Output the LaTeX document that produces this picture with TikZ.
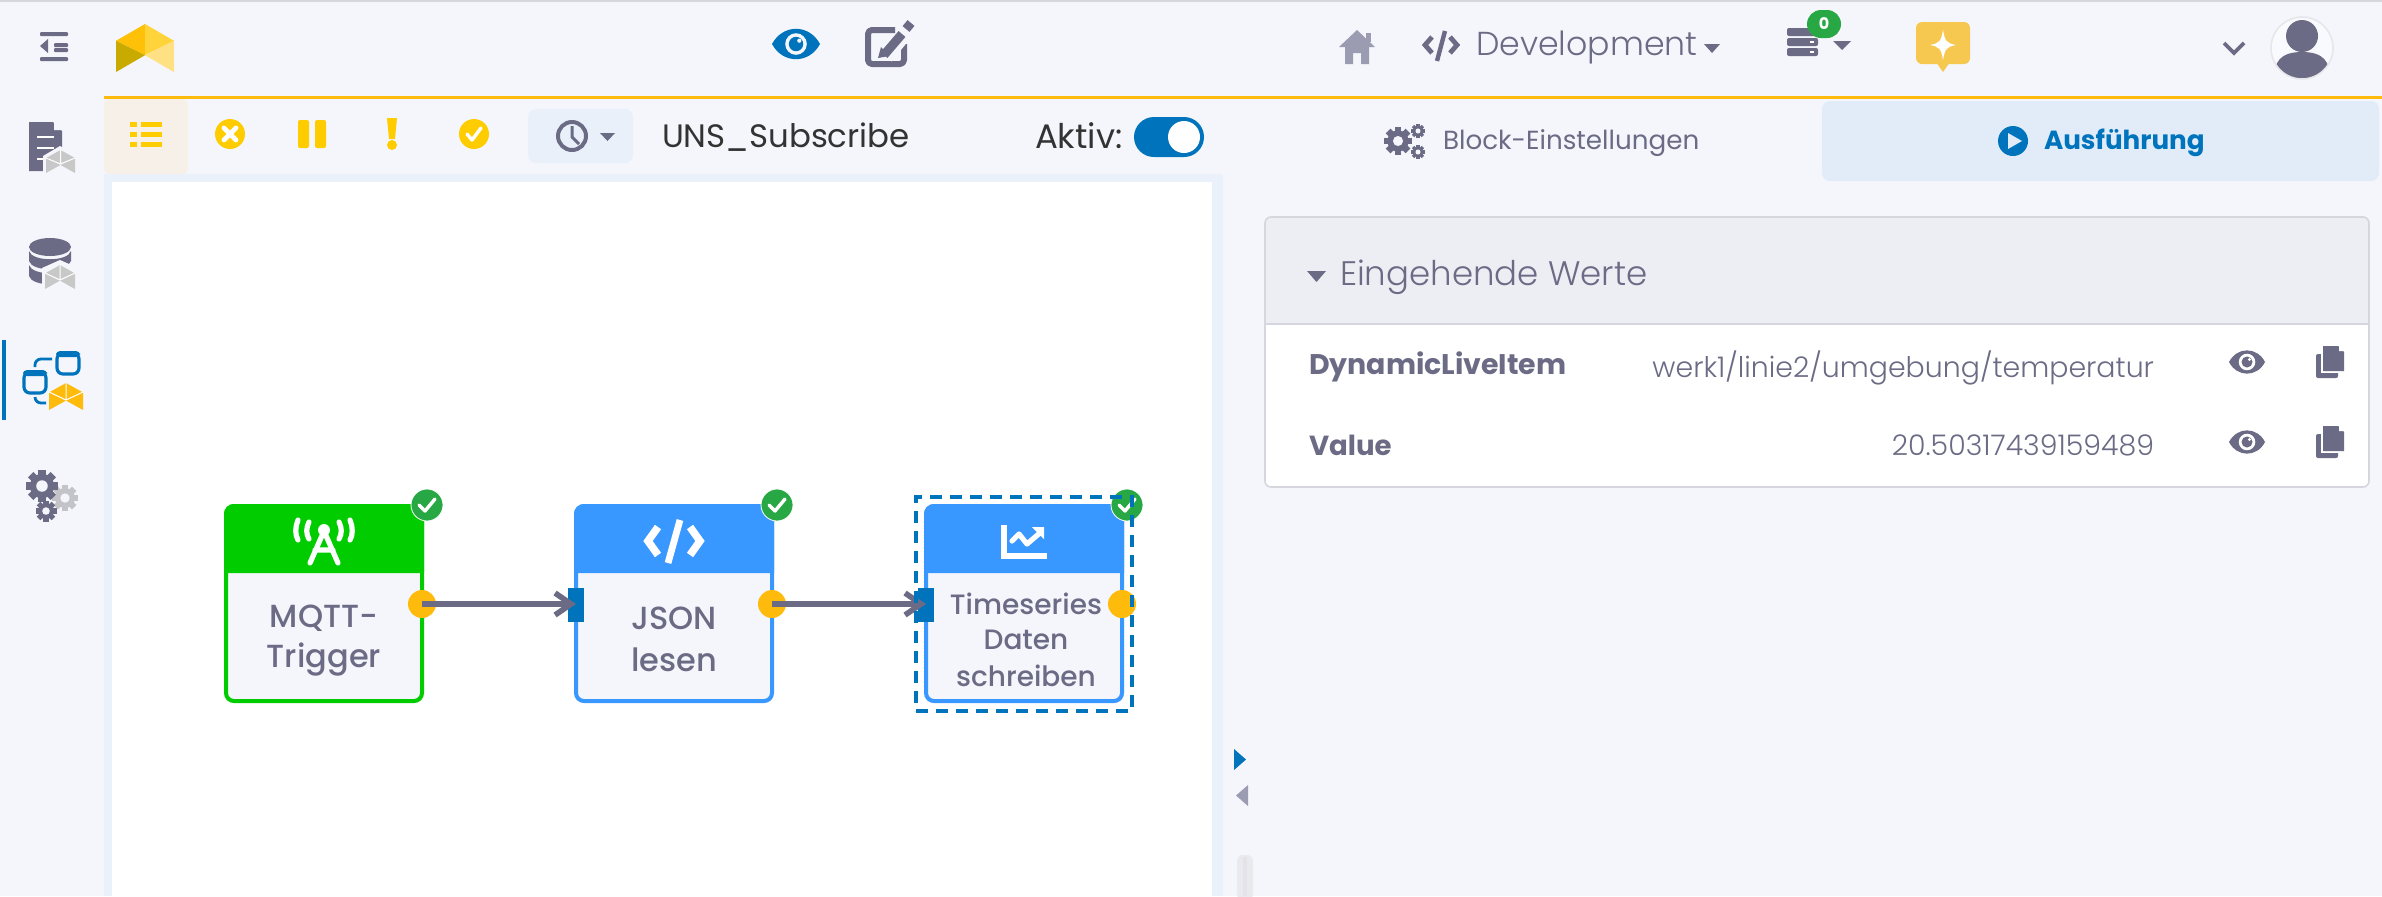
\documentclass[tikz,border=0pt]{standalone}
\usepackage{fontspec}
\usetikzlibrary{arrows.meta}
\setmainfont{Poppins}
\newfontfamily\medf{Poppins Medium}
\newfontfamily\lightf{Poppins Light}
\definecolor{bgc}{HTML}{F4F6FB}
\definecolor{tc}{HTML}{6B6B85}
\definecolor{tcl}{HTML}{9B9BB2}
\definecolor{dk}{HTML}{333333}
\definecolor{mainblue}{HTML}{0073BD}
\definecolor{blockblue}{HTML}{3898FF}
\definecolor{blockgreen}{HTML}{00CC00}
\definecolor{amber}{HTML}{FFBB0C}
\definecolor{ylw}{HTML}{FFCC00}
\definecolor{okgreen}{HTML}{28A745}
\definecolor{edge}{HTML}{D5D6DE}
\definecolor{lg1}{HTML}{FFC107}
\definecolor{lg2}{HTML}{FFD43B}
\definecolor{lg3}{HTML}{C9AA00}
\definecolor{lg4}{HTML}{FFE082}
\definecolor{lgr}{HTML}{C8C8C8}
\definecolor{gearg}{HTML}{C4C4C8}
\definecolor{tabact}{HTML}{F6F0E8}
\definecolor{clockbg}{HTML}{EAF0FA}
\definecolor{bubble}{HTML}{F7C84F}
\definecolor{runbg}{HTML}{E1ECF8}
\definecolor{panelhd}{HTML}{ECEEF3}
\definecolor{sc1}{HTML}{E9E9EE}
\definecolor{sc2}{HTML}{E3E3E8}
\definecolor{canvasedge}{HTML}{EAF1FB}
\newcommand\fs[1]{\fontsize{#1}{#1}\selectfont}
\newcommand\gearicon[5]{\begin{scope}[shift={(#1,#2)},x=#3*0.5pt,y=#3*0.5pt]
  \foreach \a in {0,45,90,135}{\fill[#4,rotate=\a] (-.24,-1) rectangle (.24,1);}
  \fill[#4] (0,0) circle (.76);\fill[#5] (0,0) circle (.36);\end{scope}}
\newcommand\eyeicon[6]{\begin{scope}[shift={(#1,#2)},x=#3*0.5pt,y=#4*0.5pt]
  \fill[#5] (-1,0) .. controls (-.55,1.35) and (.55,1.35) .. (1,0) .. controls (.55,-1.35) and (-.55,-1.35) .. (-1,0) -- cycle;
  \end{scope}
  \fill[#6] (#1,#2) circle [radius=#4*.72];\fill[#5] (#1,#2) circle [radius=#4*.48];\fill[#6] (#1+#4*.22,#2-#4*.22) circle [radius=#4*.14];}
\newcommand\logomark[8]{\begin{scope}[shift={(#1,#2)},x=#3*0.5pt,y=#4*-0.5pt]
  \fill[#5] (.5,0) -- (0,.35) -- (.5,.65) -- cycle;
  \fill[#6] (.5,0) -- (1,.35) -- (.5,.65) -- cycle;
  \fill[#7] (0,.35) -- (.5,.65) -- (0,1) -- cycle;
  \fill[#8] (1,.35) -- (.5,.65) -- (1,1) -- cycle;\end{scope}}
\newcommand\copyicon[2]{\fill[tc,rounded corners=1pt] (#1,#2+8) rectangle (#1+22,#2+32);
  \fill[white] (#1+5,#2+3) rectangle (#1+28,#2+27);
  \fill[tc] (#1+7,#2) -- (#1+22,#2) -- (#1+28,#2+6) -- (#1+28,#2+25) -- (#1+7,#2+25) -- cycle;
  \fill[white] (#1+23,#2) -- (#1+28,#2+5) -- (#1+23,#2+5) -- cycle;}
\tikzset{
  txt/.style={inner sep=0pt,outer sep=0pt,anchor=west,text=tc},
  blocktxt/.style={inner sep=0pt,outer sep=0pt,align=center,text=tc},
  blockbox/.style={draw=#1,fill=bgc,line width=2pt,rounded corners=4pt,minimum width=98pt,minimum height=97.5pt,inner sep=0pt,outer sep=0pt},
  outport/.style={circle,fill=amber,minimum size=14pt,inner sep=0pt,outer sep=0pt},
  inport/.style={rectangle,fill=mainblue,minimum width=8pt,minimum height=17pt,inner sep=0pt,outer sep=0pt},
  okbadge/.style={circle,fill=okgreen,draw=white,line width=.4pt,minimum size=16pt,inner sep=0pt,outer sep=0pt},
  conn/.style={draw=tc,line width=2.8pt,-{Straight Barb[length=8pt,width=11pt,line width=2.8pt]}},
  whitecheck/.style={draw=white,line width=1.7pt,line cap=round,line join=round},
  icw/.style={draw=white,line width=2.6pt,line cap=round,line join=round},
}
\begin{document}
\begin{tikzpicture}[x=0.5pt,y=-0.5pt]
\useasboundingbox (0,0) rectangle (2382,896);
\fill[bgc] (0,0) rectangle (2382,896);
\fill[edge] (0,0) rectangle (2382,2);
\fill[amber] (104,96) rectangle (2382,99);
% canvas
\fill[canvasedge] (104,174) rectangle (1223,896);
\fill[white] (112,182) rectangle (1212,896);
% top left
\foreach \yy/\xa in {32/40,43/54,48/54,57/40}{\fill[tc,rounded corners=.5pt] (\xa,\yy) rectangle (68,\yy+4);}
\fill[tc] (40,46) -- (48,39) -- (48,53) -- cycle;
\logomark{116}{24}{58}{48}{lg1}{lg2}{lg3}{lg4}
\eyeicon{796}{44}{24}{15}{mainblue}{bgc}
\draw[tc,line width=3pt,rounded corners=2pt,line join=round] (895,30) -- (868,30) -- (868,64) -- (904,64) -- (904,44);
\draw[bgc,line width=7pt] (886,57) -- (910,28);
\draw[tc,line width=4.5pt] (884,55) -- (902,34);
\draw[tc,line width=4.5pt] (906,29) -- (911,23);
\fill[tc] (878,58) -- (889,56) -- (881,47) -- cycle;
% toolbar
\fill[tabact,rounded corners=3pt] (104,99) rectangle (188,174);
\foreach \yy in {124,134,144}{\fill[ylw] (130,\yy-2.5) rectangle (137,\yy+2.5);\fill[ylw] (141,\yy-2.5) rectangle (162,\yy+2.5);}
\fill[ylw] (230,134) circle [radius=15];
\draw[white,line width=2.4pt,line cap=round] (224,128) -- (236,140) (236,128) -- (224,140);
\fill[ylw,rounded corners=1pt] (298,120) rectangle (309,148);
\fill[ylw,rounded corners=1pt] (315,120) rectangle (326,148);
\fill[ylw] (387,118) -- (397,118) -- (395,139) -- (389,139) -- cycle;
\fill[ylw] (392,145) circle [radius=5];
\fill[ylw] (474,134) circle [radius=15];
\draw[whitecheck] (467,134) -- (472,140) -- (481,128);
\fill[clockbg,rounded corners=4pt] (528,109) rectangle (633,163);
\draw[tc,line width=2pt] (572,136) circle [radius=14];
\draw[tc,line width=1.5pt] (572,126) -- (572,137) -- (579,144);
\fill[tc] (600,133) -- (615,133) -- (607.5,141) -- cycle;
\node[txt,text=dk,font=\fs{16.2}] (title) at (662,137) {UNS\_Subscribe};
\node[txt,text=dk,font=\fs{17}] (aktiv) at (1035,136) {Aktiv:};
\node[rectangle,fill=mainblue,rounded corners=10pt,minimum width=35pt,minimum height=20pt,inner sep=0pt] (toggle) at (1169,137) {};
\fill[white] (1184,137) circle [radius=16];
% top right
\fill[tcl] (1357,30) -- (1375,47) -- (1369,47) -- (1369,64) -- (1361,64) -- (1361,53) -- (1353,53) -- (1353,64) -- (1345,64) -- (1345,47) -- (1339,47) -- cycle;
\fill[tcl] (1366,33) rectangle (1371,42);
\draw[tc,line width=2.4pt] (1432,37) -- (1425,45) -- (1432,53);
\draw[tc,line width=2.4pt] (1450,37) -- (1457,45) -- (1450,53);
\draw[tc,line width=2.2pt] (1445,31) -- (1437,61);
\node[txt,font=\lightf\fs{16.6}] (dev) at (1476,47) {Development};
\fill[tc] (1704,44) -- (1720,44) -- (1712,53) -- cycle;
\foreach \yy in {28,38,48}{\fill[tc,rounded corners=1pt] (1787,\yy) rectangle (1818,\yy+8);\fill[white] (1810,\yy+3) rectangle (1814,\yy+5);}
\node[rectangle,fill=okgreen,rounded corners=7pt,minimum width=17pt,minimum height=14pt,inner sep=0pt,text=white,font=\bfseries\fs{8}] (badge) at (1824,24) {0};
\fill[tc] (1833,41) -- (1851,41) -- (1842,50) -- cycle;
\fill[bubble,rounded corners=3pt] (1916,22) rectangle (1970,64);
\fill[bubble] (1936,62) -- (1950,62) -- (1943,72) -- cycle;
\fill[white] (1943,30) .. controls (1945,41) and (1946,43) .. (1956,45) .. controls (1946,47) and (1945,49) .. (1943,60) .. controls (1941,49) and (1940,47) .. (1930,45) .. controls (1940,43) and (1941,41) .. (1943,30) -- cycle;
\draw[tc,line width=1.8pt] (2224,43) -- (2234,53) -- (2244,43);
\begin{scope}
\clip (2302,48) circle [radius=31];
\fill[white!50!bgc] (2302,48) circle [radius=31];
\fill[tc] (2302,36) circle [radius=16];
\fill[tc] (2302,52) .. controls (2280,52) and (2274,62) .. (2274,79) -- (2330,79) .. controls (2330,62) and (2324,52) .. (2302,52) -- cycle;
\end{scope}
\draw[edge!60,line width=.8pt] (2302,48) circle [radius=31];
% sidebar
\fill[tc] (29,122) -- (53,122) -- (62,131) -- (62,171) -- (29,171) -- cycle;
\fill[bgc] (54,122) -- (62,130) -- (54,130) -- cycle;
\foreach \yy in {137,148,159}{\draw[white,line width=.8pt] (37,\yy) -- (54,\yy);}
\fill[bgc] (43,156) -- (60,146) -- (78,156) -- (78,176) -- (43,176) -- cycle;
\logomark{46}{150}{29}{23}{lgr}{lgr}{lgr}{lgr}
\draw[white,line width=.5pt] (60.5,150) -- (60.5,164) (46,158) -- (60.5,164) -- (75,158);
\fill[tc] (50,247) ellipse [x radius=21,y radius=9];
\fill[tc] (29,251) -- (29,261) .. controls (32,272) and (68,272) .. (71,261) -- (71,251) .. controls (68,262) and (32,262) .. (29,251) -- cycle;
\fill[tc] (29,265) -- (29,276) .. controls (32,287) and (68,287) .. (71,276) -- (71,265) .. controls (68,276) and (32,276) .. (29,265) -- cycle;
\fill[bgc] (42,268) -- (60,260) -- (78,268) -- (78,292) -- (42,292) -- cycle;
\logomark{45}{265}{30}{24}{lgr}{lgr}{lgr}{lgr}
\draw[white,line width=.5pt] (60,265) -- (60,280) (45,273) -- (60,280) -- (75,273);
\fill[mainblue] (2,340) rectangle (6,420);
\draw[mainblue,line width=1.6pt,rounded corners=3pt] (24,372) rectangle (46,393);
\fill[mainblue,rounded corners=2pt] (23,370) rectangle (47,376);
\draw[mainblue,line width=1.6pt,rounded corners=3pt] (57,353) rectangle (79,374);
\fill[mainblue,rounded corners=2pt] (56,351) rectangle (80,357);
\draw[mainblue,line width=1.4pt,rounded corners=3pt] (52,359) -- (35,359) -- (35,367);
\draw[mainblue,line width=1.4pt,rounded corners=3pt] (35,397) -- (35,403) -- (46,403);
\logomark{49}{383}{34}{27}{amber}{amber}{amber}{amber}
\draw[white,line width=.5pt] (66,383) -- (66,400) (49,392) -- (66,400) -- (83,392);
\gearicon{65}{498}{13}{gearg}{bgc}
\gearicon{42}{486}{16}{tc}{bgc}
\gearicon{46}{511}{10.5}{tc}{bgc}
% tabs
\fill[runbg,rounded corners=4pt] (1822,101) rectangle (2379,181);
\gearicon{1398}{141}{14}{tc}{bgc}
\gearicon{1418}{131}{7}{tc}{bgc}
\gearicon{1418}{152}{7}{tc}{bgc}
\node[txt,font=\fs{13.1}] (tabblock) at (1443,143) {Block-Einstellungen};
\fill[mainblue] (2013,141) circle [radius=15];
\fill[runbg] (2008,133) -- (2022,141) -- (2008,149) -- cycle;
\node[txt,text=mainblue,font=\bfseries\fs{13.1}] (tabrun) at (2044,143) {Ausführung};
% panel
\fill[white,rounded corners=3pt] (1265,217) rectangle (2369,487);
\fill[panelhd,rounded corners=3pt] (1265,217) rectangle (2369,240);
\fill[panelhd] (1265,230) rectangle (2369,324);
\draw[edge,line width=.8pt,rounded corners=3pt] (1265,217) rectangle (2369,487);
\draw[edge,line width=1pt] (1265,324) -- (2369,324);
\fill[tc] (1307,271) -- (1326,271) -- (1316.5,282) -- cycle;
\node[txt,font=\lightf\fs{17}] (pheader) at (1340,277) {Eingehende Werte};
\node[txt,font=\bfseries\fs{14.2}] (k1) at (1309,367) {DynamicLiveItem};
\node[txt,anchor=east,font=\lightf\fs{14.2}] (v1) at (2154,368) {werk1/linie2/umgebung/temperatur};
\node[txt,font=\bfseries\fs{13.8}] (k2) at (1309,445) {Value};
\node[txt,anchor=east,font=\lightf\fs{14.2}] (v2) at (2154,445) {20.50317439159489};
\eyeicon{2247}{362}{18}{11.5}{tc}{white}
\eyeicon{2247}{442}{18}{11.5}{tc}{white}
\copyicon{2316}{346}
\copyicon{2316}{426}
% handles
\fill[mainblue] (1234,749) -- (1246,759.5) -- (1234,770) -- cycle;
\fill[tcl] (1248,785) -- (1236,795.5) -- (1248,806) -- cycle;
\fill[sc1,rounded corners=3pt] (1237,855) rectangle (1253,900);
\fill[sc2] (1243,857) rectangle (1247,896);
% blocks
\node[blockbox=blockgreen] (n1) at (324,603.5) {};
\node[blockbox=blockblue] (n2) at (674,603.5) {};
\node[blockbox=blockblue] (n3) at (1024,603.5) {};
\foreach \xa/\colr in {224/blockgreen,574/blockblue,924/blockblue}{
  \fill[\colr] (\xa,573) [rounded corners=5pt] -- (\xa,504) -- (\xa+200,504) [sharp corners] -- (\xa+200,573) -- cycle;}
\node[blocktxt,font=\medf\fs{16}] (t1a) at (324,618) {MQTT-};
\node[blocktxt,font=\medf\fs{16}] (t1b) at (324,660) {Trigger};
\node[blocktxt,font=\medf\fs{16}] (t2a) at (674,618) {JSON};
\node[blocktxt,font=\medf\fs{16}] (t2b) at (674,660) {lesen};
\node[blocktxt,font=\medf\fs{14}] (t3a) at (1026,604) {Timeseries};
\node[blocktxt,font=\medf\fs{14}] (t3b) at (1026,640) {Daten};
\node[blocktxt,font=\medf\fs{14}] (t3c) at (1026,676) {schreiben};
% block icons
\draw[icw] (324,531) -- (310,563) (324,531) -- (338,563) (315,550) -- (333,550);
\fill[white] (324,530) circle [radius=6];
\draw[icw] (309,522) .. controls (306,528) and (306,534) .. (309,539);
\draw[icw] (339,522) .. controls (342,528) and (342,534) .. (339,539);
\draw[icw] (298,520) .. controls (295,527) and (295,535) .. (298,540);
\draw[icw] (350,520) .. controls (353,527) and (353,535) .. (350,540);
\draw[icw,line width=3.8pt,line cap=butt,line join=miter] (658,527) -- (648,541) -- (658,555);
\draw[icw,line width=3.8pt,line cap=butt,line join=miter] (690,527) -- (700,541) -- (690,555);
\draw[icw,line width=3.4pt,line cap=butt] (680,520) -- (668,563);
\draw[icw,line cap=butt,line join=miter] (1004,525) -- (1004,556) -- (1047,556);
\draw[icw] (1012,541) -- (1019,534) -- (1027,544) -- (1041,532);
\fill[white] (1032,527) -- (1044,527) -- (1044,539) -- cycle;
% ports and connectors
\node[outport] (p1) at (422,604) {};
\node[outport] (p2) at (772,604) {};
\node[outport] (p3) at (1122,604) {};
\node[inport] (in2) at (576,605) {};
\node[inport] (in3) at (926,605) {};
\draw[conn] (p1.center) -- (in2.center |- p1.center);
\draw[conn] (p2.center) -- (in3.center |- p2.center);
% check badges
\foreach \nm/\xa in {b1/427,b2/777,b3/1127}{
  \node[okbadge] (\nm) at (\xa,505) {};
  \draw[whitecheck] (\xa-8,505) -- (\xa-2,511) -- (\xa+8,499);}
% selection
\node[draw=mainblue,line width=2pt,dash pattern=on 6pt off 4pt,minimum width=108pt,minimum height=107pt,inner sep=0pt,outer sep=0pt] (sel) at (1024,604) {};
\end{tikzpicture}
\end{document}
